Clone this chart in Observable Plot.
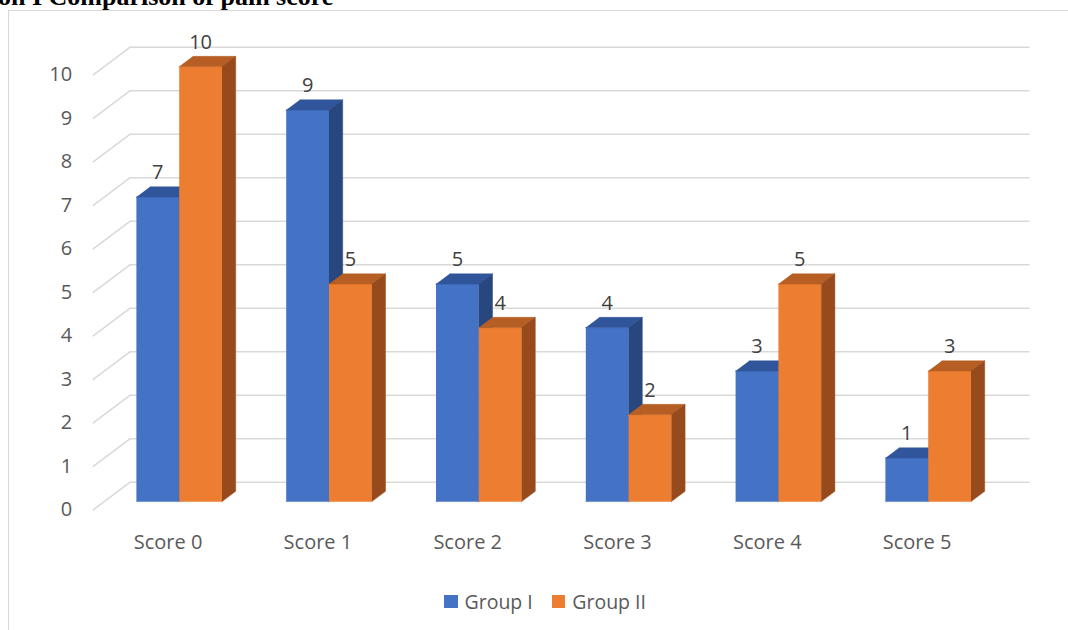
<!DOCTYPE html>
<html><head><meta charset="utf-8">
<script src="https://cdn.jsdelivr.net/npm/d3@7"></script>
<script src="https://cdn.jsdelivr.net/npm/@observablehq/plot@0.6"></script>
<style>
html,body{margin:0;padding:0;background:#fff;overflow:hidden}
#wrap{position:relative;width:1068px;height:630px;overflow:hidden;background:#fff}
#title{position:absolute;left:-5px;top:-16px;font:bold 26px "Liberation Serif";white-space:nowrap;line-height:26px;color:#000}
#frame{position:absolute;left:8px;top:10px;width:1300px;height:800px;border:1.5px solid #d9d9d9;box-sizing:border-box}
#chart{position:absolute;left:0;top:0}
#legend{position:absolute;top:588px;left:444px;display:flex;align-items:center;font:19.5px "Open Sans";color:#595959;white-space:nowrap}
#legend .item{display:flex;align-items:center;margin-right:19px}
#legend .sw{width:13.5px;height:13.5px;margin-right:7px}
</style>
</head><body>
<div id="wrap">
  <div id="title"></div>
  <div id="frame"></div>
  <div id="chart"></div>
  <div id="legend"></div>
</div>
<script>
const titleText = "on I Comparison of pain score";
const categories = ["Score 0", "Score 1", "Score 2", "Score 3", "Score 4", "Score 5"];
const seriesNames = ["Group I", "Group II"];
const groupI = [7, 9, 5, 4, 3, 1];
const groupII = [10, 5, 4, 2, 5, 3];
const yTicks = [0, 1, 2, 3, 4, 5, 6, 7, 8, 9, 10];

const frontColors = ["#4472C4", "#ED7D31"];
const topColors = ["#30559A", "#B65E24"];
const sideColors = ["#28477F", "#974B1C"];

// oblique projection of depth, expressed in data units (category units, value units)
const KX = 37 / 149.8, KY = 27.7 / 43.5;
const D0 = 0.3, D1 = 0.67;   // bar front/back depth
const W = 1 / 3.5;           // bar width in category units (gap 150%)

const P = (c, v, d) => ({x: c + d * KX, y: v + d * KY});

const titleEl = document.getElementById("title");
titleEl.textContent = titleText;
titleEl.style.left = (333 - titleEl.offsetWidth) + "px";

const series = [groupI, groupII];
const faces = [];
series.forEach((vals, s) => {
  vals.forEach((v, i) => {
    const x0 = i + 0.5 - W + s * W, x1 = x0 + W;
    const add = (face, pts) => pts.forEach(p => faces.push({id: `${s}-${i}-${face}`, s, face, ...p}));
    add("front", [P(x0, 0, D0), P(x1, 0, D0), P(x1, v, D0), P(x0, v, D0)]);
    add("top", [P(x0, v, D0), P(x1, v, D0), P(x1, v, D1), P(x0, v, D1)]);
    add("side", [P(x1, 0, D0), P(x1, 0, D1), P(x1, v, D1), P(x1, v, D0)]);
  });
});

const grid = [];
yTicks.forEach(v => {
  grid.push({id: "b" + v, ...P(0, v, 1)}, {id: "b" + v, ...P(categories.length, v, 1)});
  grid.push({id: "l" + v, ...P(0, v, 0)}, {id: "l" + v, ...P(0, v, 1)});
});

const labels = [];
series.forEach((vals, s) => vals.forEach((v, i) => {
  const cx = i + 0.5 - W + s * W + W / 2;
  labels.push({...P(cx, v, D0), text: String(v)});
}));

const faceMarks = [];
[0, 1].forEach(s => {
  [["front", frontColors], ["top", topColors], ["side", sideColors]].forEach(([f, cols]) => {
    faceMarks.push(Plot.line(faces.filter(d => d.s === s && d.face === f),
      {x: "x", y: "y", z: "id", fill: cols[s], stroke: cols[s], strokeWidth: 0.5}));
  });
});

const chart = Plot.plot({
  width: 1068,
  height: 570,
  marginLeft: 92.7,
  marginRight: 76.5,
  marginTop: 74.4,
  marginBottom: 60.6,
  style: {fontFamily: "Open Sans", fontSize: "20px", color: "#595959", background: "transparent", overflow: "visible"},
  x: {type: "linear", domain: [0, categories.length], axis: null},
  y: {type: "linear", domain: [0, 10], axis: null},
  marks: [
    Plot.line(grid, {x: "x", y: "y", z: "id", stroke: "#d9d9d9", strokeWidth: 1.5}),
    Plot.axisY(yTicks, {tickSize: 0, tickPadding: 21, fontSize: 20, fill: "#595959", label: null}),
    Plot.text(categories, {x: (d, i) => i + 0.5, y: 0, text: d => d, dy: 33, fill: "#595959", fontSize: 20}),
    ...faceMarks,
    Plot.text(labels, {x: "x", y: "y", text: "text", dy: -24, fill: "#404040", fontSize: 20})
  ]
});
document.getElementById("chart").appendChild(chart);

const legend = document.getElementById("legend");
seriesNames.forEach((n, s) => {
  const it = document.createElement("div");
  it.className = "item";
  const sw = document.createElement("div");
  sw.className = "sw";
  sw.style.background = frontColors[s];
  const t = document.createElement("span");
  t.textContent = n;
  it.appendChild(sw); it.appendChild(t);
  legend.appendChild(it);
});
</script>
</body></html>
